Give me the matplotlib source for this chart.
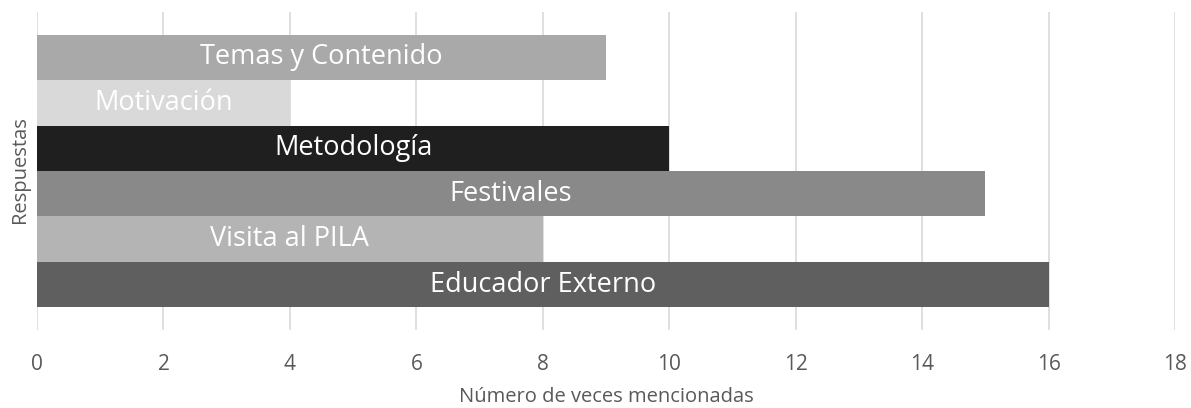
import matplotlib
matplotlib.use("Agg")
import matplotlib.pyplot as plt

categories = ["Temas y Contenido", "Motivación", "Metodología", "Festivales", "Visita al PILA", "Educador Externo"]
values = [9, 4, 10, 15, 8, 16]
colors = ["#a9a9a9", "#d9d9d9", "#1f1f1f", "#898989", "#b4b4b4", "#5f5f5f"]
xticks = [0, 2, 4, 6, 8, 10, 12, 14, 16, 18]

plt.rcParams['font.family'] = ['Open Sans', 'DejaVu Sans']

W, H = 1191, 408
fig = plt.figure(figsize=(W/100, H/100), dpi=100)
ax = fig.add_axes([37/W, 78/H, (1175-37)/W, (330-12)/H])

n = len(categories)
ypos = list(range(n))[::-1]
ax.barh(ypos, values, height=1.0, color=colors, zorder=2)
for y, v, c in zip(ypos, values, categories):
    ax.text(v/2, y, c, ha='center', va='center', color='white', fontsize=19.5, zorder=3)

ax.set_xlim(0, 18)
ax.set_ylim(-1, n)
ax.set_xticks(xticks)
ax.set_xticklabels([str(t) for t in xticks])
ax.set_yticks([])
ax.grid(axis='x', color='#d9d9d9', linewidth=1.2, zorder=0)
for s in ax.spines.values():
    s.set_visible(False)
ax.tick_params(axis='x', length=0, labelsize=15, labelcolor='#595959', pad=17)
ax.set_xlabel("Número de veces mencionadas", fontsize=14.5, color='#595959')
ax.xaxis.set_label_coords((606-37)/(1175-37), -(397-330)/(330-12))
ax.xaxis.label.set_va('center')
ax.set_ylabel("Respuestas", fontsize=14.5, color='#595959')
ax.yaxis.set_label_coords(-(37-20)/(1175-37), (330-170)/(330-12))
ax.yaxis.label.set_va('center')

fig.savefig("out.png", dpi=100)
